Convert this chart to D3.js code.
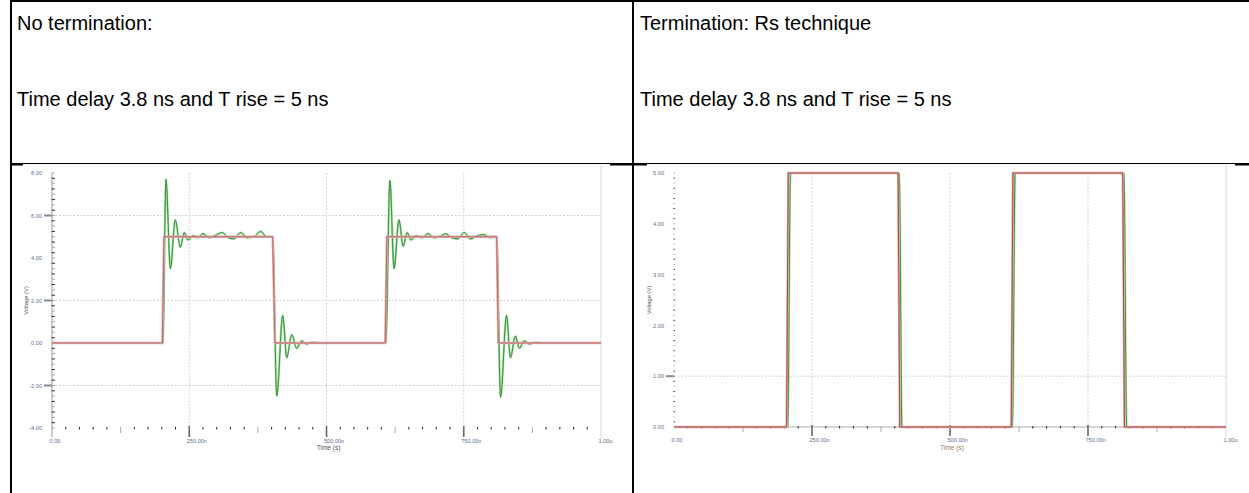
<!DOCTYPE html>
<html>
<head>
<meta charset="utf-8">
<script src="https://cdn.jsdelivr.net/npm/d3@7/dist/d3.min.js"></script>
<style>
  body { margin: 0; background: #fff; }
  svg { display: block; font-family: "Liberation Sans", Arial, sans-serif; }
</style>
</head>
<body>
<svg id="page" width="1249" height="493"></svg>
<script>
// --- texts of the two table cells ---
const leftTitle = "No termination:";
const rightTitle = "Termination: Rs technique";
const subTitle = "Time delay 3.8 ns and T rise = 5 ns";

// --- shared time axis (ns) ---
const timeTicks = [0, 250, 500, 750, 1000];
const timeLabels = ["0.00", "250.00n", "500.00n", "750.00n", "1.00u"];

// --- voltage axes ---
const noTermVoltTicks = [8, 6, 4, 2, 0, -2, -4];
const noTermGridVolts = [6, 2, -2];
const rsVoltTicks = [5, 4, 3, 2, 1, 0];
const rsGridVolts = [1];

// --- series, [time ns, volt] ---
// source side (red)
const noTermSource = [[0, 0], [201, 0], [204, 5], [402, 5], [406, 0], [607, 0], [610, 5], [810, 5], [813, 0], [1000, 0]];
// load side (green), ringing without termination
const noTermLoad = [
  [0, 0], [202, 0], [207.6, 7.7], [215.6, 3.5], [224.6, 5.8], [233.7, 4.5], [241, 5.2], [248, 4.85],
  [257, 5.05], [266, 4.95], [275, 5.15], [286, 4.95], [297, 5.05], [310, 5.2], [321, 4.95], [331, 4.9],
  [344, 5.2], [355, 4.95], [368, 5.0], [380, 5.25], [391, 5.0], [402, 5.0],
  [409.4, -2.5], [420.3, 1.3], [427.5, -0.7], [436.6, 0.4], [445.7, -0.25], [454.7, 0.1], [463.8, -0.05],
  [472.8, 0.03], [489, 0], [608, 0],
  [615.5, 7.65], [623, 3.5], [632, 5.8], [639.5, 4.55], [646.7, 5.2], [654, 4.85], [663, 5.05], [674, 4.95],
  [685, 5.15], [696, 4.95], [707, 5.0], [717, 5.15], [728, 4.95], [739, 4.9], [751, 5.2], [762, 4.9],
  [775, 5.05], [787, 5.1], [798, 4.95], [810, 5.0],
  [817, -2.55], [828, 1.3], [835, -0.7], [844, 0.33], [851, -0.25], [860.5, 0.1], [869.6, -0.05],
  [880, 0.03], [893, 0], [1000, 0]
];
// with series termination
const rsSource = [[0, 0], [204, 0], [207, 5], [406, 5], [409, 0], [611, 0], [614, 5], [813, 5], [816, 0], [1000, 0]];
const rsLoad = [[0, 0], [206, 0], [211, 5], [408, 5], [413, 0], [613, 0], [618, 5], [815, 5], [820, 0], [1000, 0]];

const svg = d3.select('#page');
svg.append('rect').attr('width', 1249).attr('height', 493).attr('fill', '#fff');

// --- table of the document ---
const table = svg.append('g').attr('stroke', '#000');
table.append('line').attr('x1', 10).attr('x2', 1249).attr('y1', 1).attr('y2', 1).attr('stroke-width', 2);
table.append('line').attr('x1', 11).attr('x2', 11).attr('y1', 0).attr('y2', 493).attr('stroke-width', 2);
table.append('line').attr('x1', 633).attr('x2', 633).attr('y1', 0).attr('y2', 493).attr('stroke-width', 2);
table.append('line').attr('x1', 10).attr('x2', 1249).attr('y1', 163.5).attr('y2', 163.5).attr('stroke-width', 1.2);
[[10, 23], [610, 647], [1235, 1249]].forEach(([a, b]) => {
  table.append('line').attr('x1', a).attr('x2', b).attr('y1', 164.5).attr('y2', 164.5).attr('stroke-width', 2);
});

const txt = svg.append('g').attr('fill', '#000').style('font-size', '20px');
txt.append('text').attr('x', 17).attr('y', 30).text(leftTitle);
txt.append('text').attr('x', 17).attr('y', 106).text(subTitle);
txt.append('text').attr('x', 640).attr('y', 30).text(rightTitle);
txt.append('text').attr('x', 640).attr('y', 106).text(subTitle);

// --- one scope screenshot ---
function drawScope(cfg) {
  const x = d3.scaleLinear().domain([0, 1000]).range(cfg.xRange);
  const y = d3.scaleLinear().domain(cfg.yDomain).range(cfg.yRange);
  const [x0, x1] = cfg.xRange;
  const [yb, yt] = cfg.yRange;
  const g = svg.append('g');

  // grid
  g.selectAll('line.vgrid').data(timeTicks.slice(1, -1)).join('line')
    .attr('x1', d => x(d)).attr('x2', d => x(d)).attr('y1', yt).attr('y2', yb)
    .attr('stroke', '#d2d2d2').attr('stroke-dasharray', '2,1.5');
  g.append('line').attr('x1', x(1000)).attr('x2', x(1000)).attr('y1', yt - 8).attr('y2', yb + 10)
    .attr('stroke', '#e6e6e6').attr('stroke-width', 1.5);
  g.selectAll('line.hgrid').data(cfg.gridVolts).join('line')
    .attr('x1', x0).attr('x2', x1).attr('y1', d => y(d)).attr('y2', d => y(d))
    .attr('stroke', '#d2d2d2').attr('stroke-dasharray', '2,1.5');

  if (cfg.xAxisLine) {
    g.append('line').attr('x1', x0).attr('x2', x1).attr('y1', yb).attr('y2', yb)
      .attr('stroke', '#d6d6d6').attr('stroke-width', 2);
  }
  if (cfg.yAxisLine) {
    g.append('line').attr('x1', x0).attr('x2', x0).attr('y1', yt).attr('y2', yb + 9)
      .attr('stroke', '#9a9a9a').attr('stroke-width', 1);
  }

  // minor ticks on the voltage axis
  const yMinor = d3.range(cfg.yDomain[0], cfg.yDomain[1] + 1e-9, cfg.yMinorStep);
  g.selectAll('line.yminor').data(yMinor).join('line')
    .attr('x1', x0 - 0.5).attr('x2', x0 + cfg.yMinorLen).attr('y1', d => y(d)).attr('y2', d => y(d))
    .attr('stroke', (d, i) => i % 2 ? '#333' : '#aaa').attr('stroke-width', 1);
  g.selectAll('line.ymajor').data(cfg.gridVolts).join('line')
    .attr('x1', x0 - 8).attr('x2', x0).attr('y1', d => y(d)).attr('y2', d => y(d))
    .attr('stroke', '#8a8a8a').attr('stroke-width', 2);

  // minor ticks on the time axis
  const xMinor = d3.range(25, 1000, 25).filter(d => d % 250 !== 0);
  g.selectAll('line.xminor').data(xMinor).join('line')
    .attr('x1', d => x(d)).attr('x2', d => x(d))
    .attr('y1', yb - 1).attr('y2', d => d % 125 === 0 ? yb + 5 : yb + 1.5)
    .attr('stroke', d => d % 125 === 0 ? '#aaa' : '#222').attr('stroke-width', 1);
  g.selectAll('line.xmajor').data(timeTicks.slice(1, -1)).join('line')
    .attr('x1', d => x(d)).attr('x2', d => x(d)).attr('y1', yb - 2).attr('y2', yb + 9)
    .attr('stroke', '#666').attr('stroke-width', 1.6);

  // tick labels
  const yAxis = d3.axisLeft(y).tickValues(cfg.yTicks).tickFormat(d => d.toFixed(2))
    .tickSize(0).tickPadding(10);
  g.append('g').attr('transform', `translate(${x0},0)`).call(yAxis)
    .call(a => a.select('.domain').remove())
    .selectAll('text').attr('fill', '#5b6c92').style('font-size', '5.6px')
    .style('font-family', '"Liberation Sans", Arial, sans-serif');

  const xAxis = d3.axisBottom(x).tickValues(timeTicks).tickFormat((d, i) => timeLabels[i])
    .tickSize(0).tickPadding(cfg.xPad);
  g.append('g').attr('transform', `translate(0,${yb})`).call(xAxis)
    .call(a => a.select('.domain').remove())
    .selectAll('text').attr('fill', '#5b6c92').style('font-size', '5.6px')
    .attr('text-anchor', 'start').attr('dx', -3)
    .style('font-family', '"Liberation Sans", Arial, sans-serif');

  // axis titles
  g.append('text').attr('transform', `translate(${cfg.yTitleX},${(yt + yb) / 2}) rotate(-90)`)
    .attr('text-anchor', 'middle').attr('fill', '#555').style('font-size', '5.8px').text('Voltage (V)');
  g.append('text').attr('x', (x0 + x1) / 2 + 2).attr('y', cfg.xTitleY)
    .attr('text-anchor', 'middle').attr('fill', cfg.xTitleColor).style('font-size', '6.5px').text('Time (s)');

  // traces
  const load = d3.line().x(d => x(d[0])).y(d => y(d[1])).curve(d3.curveMonotoneX);
  const src = d3.line().x(d => x(d[0])).y(d => y(d[1]));

  g.append('path').datum(cfg.load).attr('d', load).attr('fill', 'none')
    .attr('stroke', '#a9d9a9').attr('stroke-width', 2.2);
  g.append('path').datum(cfg.load).attr('d', load).attr('fill', 'none')
    .attr('stroke', '#2f962f').attr('stroke-width', 1);
  g.append('path').datum(cfg.source).attr('d', src).attr('fill', 'none')
    .attr('stroke', '#dfb0b0').attr('stroke-width', 2.4);
  g.append('path').datum(cfg.source).attr('d', src).attr('fill', 'none')
    .attr('stroke', '#9c1f1f').attr('stroke-width', 0.9).attr('stroke-opacity', cfg.srcCoreOpacity);
}

drawScope({
  xRange: [52, 601], yDomain: [-4, 8], yRange: [428, 173],
  yTicks: noTermVoltTicks, gridVolts: noTermGridVolts,
  yMinorStep: 0.25, yMinorLen: 3, yAxisLine: true, xAxisLine: false,
  xPad: 11, yTitleX: 28, xTitleY: 450, xTitleColor: '#555',
  source: noTermSource, load: noTermLoad, srcCoreOpacity: 0.55
});

drawScope({
  xRange: [674, 1226], yDomain: [0, 5], yRange: [427, 173],
  yTicks: rsVoltTicks, gridVolts: rsGridVolts,
  yMinorStep: 0.1, yMinorLen: 1, yAxisLine: false, xAxisLine: true,
  xPad: 11, yTitleX: 651, xTitleY: 450, xTitleColor: '#9a7a55',
  source: rsSource, load: rsLoad, srcCoreOpacity: 0.8
});
</script>
</body>
</html>
